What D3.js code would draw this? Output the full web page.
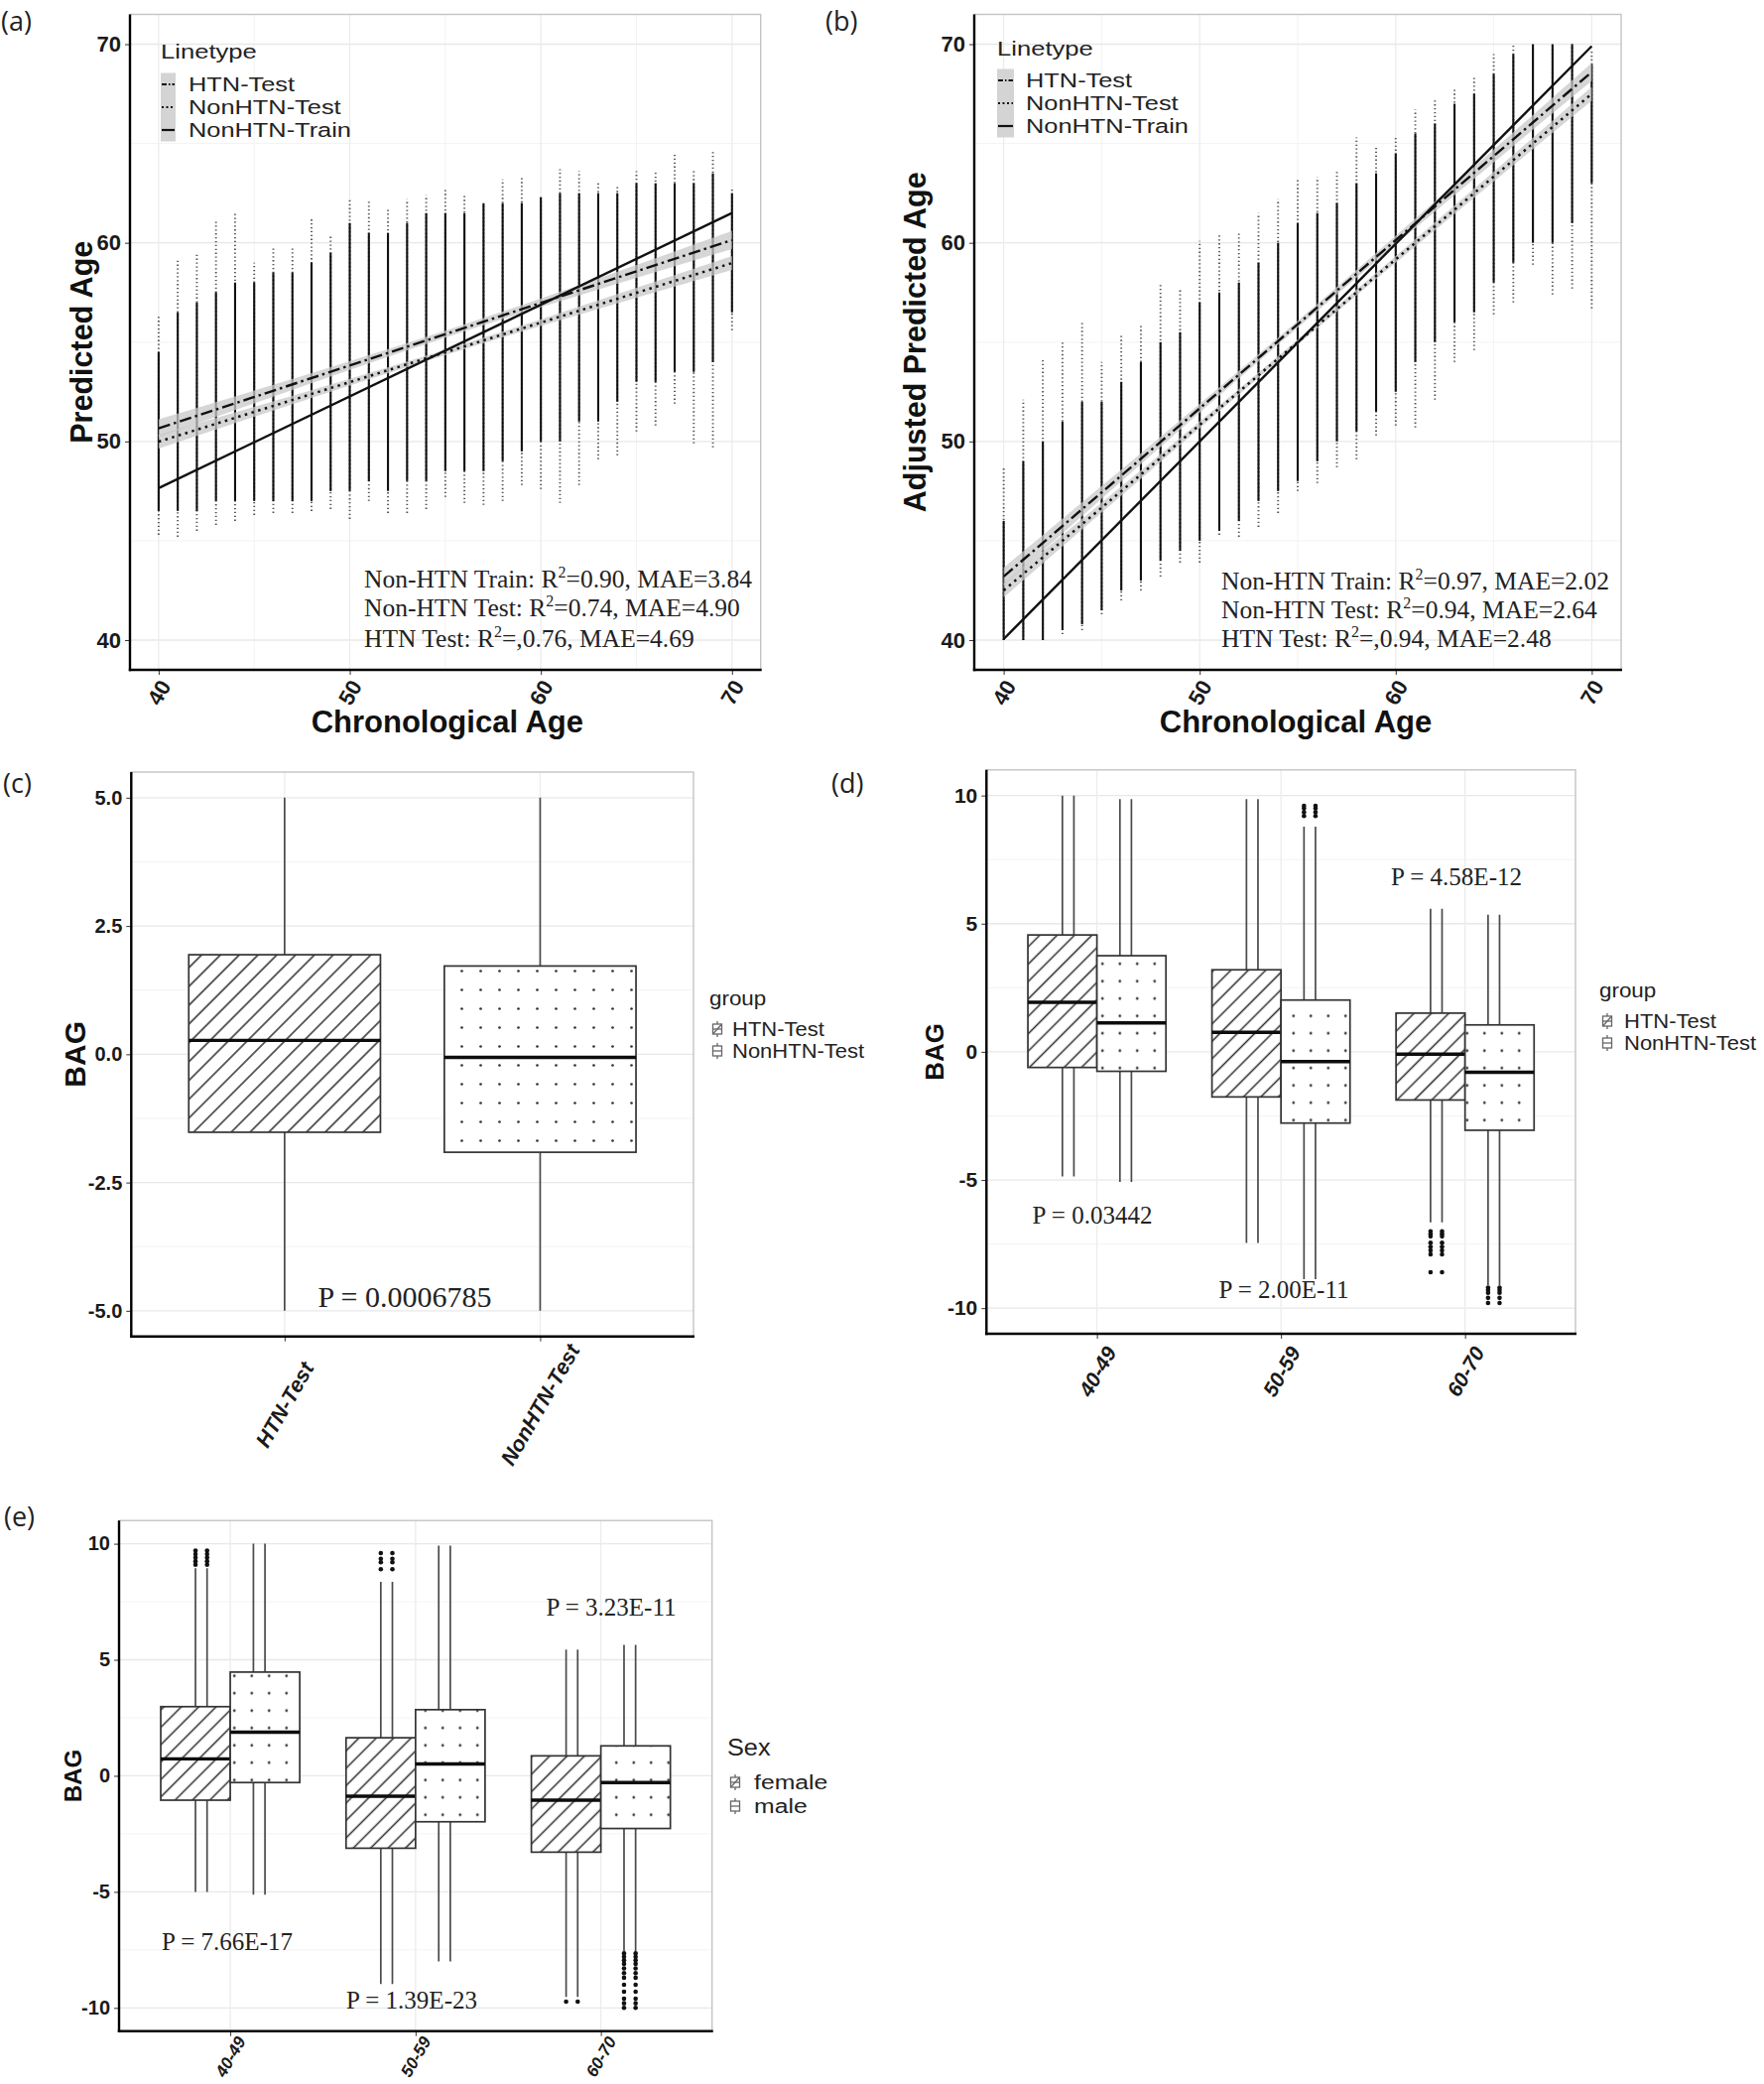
<!DOCTYPE html>
<html><head><meta charset="utf-8">
<script src="https://cdn.jsdelivr.net/npm/d3@7"></script>
<style>body{margin:0;background:#fff}</style>
</head><body>
<svg id="fig" width="1778" height="2100"></svg>
<script>
// ---------------- DATA ----------------
// Panels (a),(b): chronological age columns
const ages = [40,41,42,43,44,45,46,47,48,49,50,51,52,53,54,55,56,57,58,59,60,61,62,63,64,65,66,67,68,69,70];
const aMax    = [56.3,59.1,59.5,61.1,61.5,59.0,59.8,59.8,61.3,60.4,62.2,62.2,61.8,62.2,62.4,62.8,62.4,62.0,63.2,63.3,62.3,63.7,63.6,63.1,62.9,63.6,63.6,64.5,63.7,64.6,62.7];
const aMin    = [45.3,45.2,45.5,45.8,46.0,46.3,46.4,46.4,46.5,46.6,46.1,47.0,46.4,46.4,46.6,47.2,46.9,46.8,47.0,47.8,47.6,46.9,47.8,49.1,49.3,50.5,50.8,51.9,49.9,49.7,55.6];
const aCoreHi = [54.5,56.5,57,57.5,58,58,58.5,58.5,59,59.5,61,60.5,60.5,61,61.5,61.5,61.5,62,62,62,62.3,62.5,62.5,62.5,62.5,63,63,63,63,63.5,62.5];
const aCoreLo = [46.5,46.5,46.5,47,47,47,47,47,47,47.5,47.5,48,47.5,48,48,48.5,48.5,48.5,49,49.5,50,50,51,51,52,53,53,53.5,53.5,54,56.5];
const bMax    = [48.7,52.1,54.2,55.0,56.0,54.0,55.4,55.9,57.9,57.7,60.1,60.5,60.5,61.5,62.2,63.2,63.3,63.6,65.3,64.9,65.4,66.7,67.2,67.8,68.3,69.5,70,69.8,70,70,69.7];
const bMin    = [40,40,40,40.3,40.5,41.3,42.0,42.5,43.2,43.9,43.9,45.3,45.2,45.7,46.4,47.5,47.9,48.7,49.1,50.3,50.8,50.7,52.1,54.0,54.6,56.4,57.0,58.9,57.4,57.7,56.7];
const bCoreHi = [46,49,50,51,52,52,53,54,55,55.5,57,57.5,58,59,60,61,61.5,62,63,63.5,64.5,65.5,66,67,67.5,68.5,69.5,70,70,70,69];
const bCoreLo = [40,40,40,40.5,40.8,41.5,42.5,43,44,44.5,45,45.5,46,47,47.5,48,49,50,50.5,51.5,52.5,54,55,56,56.5,58,59,60,60,61,63];

// regression fits (value at x = 40 and x = 70)
const fitX = [40, 70];
const aTrainFit = [47.65, 61.5];
const aHtnFit   = [50.66, 60.14];
const aNonFit   = [49.99, 58.98];
const bTrainFit = [40.05, 69.9];
const bHtnFit   = [43.2, 68.6];
const bNonFit   = [42.5, 67.5];
// confidence band half-widths
const bandX    = [40, 45, 50, 55, 60, 65, 70];
const aHtnSe   = [0.45,0.32,0.22,0.17,0.22,0.32,0.45];
const aNonSe   = [0.35,0.25,0.17,0.13,0.17,0.25,0.35];
const bHtnSe   = [0.45,0.32,0.22,0.17,0.22,0.32,0.45];
const bNonSe   = [0.35,0.25,0.17,0.13,0.17,0.25,0.35];

const lineTypes = ["HTN-Test","NonHTN-Test","NonHTN-Train"];
const statNames = ["Non-HTN Train","Non-HTN Test","HTN Test"];
const aR2  = ["=0.90","=0.74","=,0.76"];
const aMAE = ["3.84","4.90","4.69"];
const bR2  = ["=0.97","=0.94","=,0.94"];
const bMAE = ["2.02","2.64","2.48"];

// Panel (c)
const cCats = ["HTN-Test","NonHTN-Test"];
const cLo  = [-5.0,-5.0];
const cQ1  = [-1.52,-1.91];
const cMed = [0.27,-0.06];
const cQ3  = [1.94,1.72];
const cHi  = [5.0,5.0];
const cP = "P = 0.0006785";

// Panel (d)
const ageGroups = ["40-49","50-59","60-70"];
const dHtnLo  = [-4.86,-7.46,-6.65];
const dHtnQ1  = [-0.61,-1.76,-1.88];
const dHtnMed = [1.93,0.76,-0.09];
const dHtnQ3  = [4.56,3.2,1.51];
const dHtnHi  = [10.0,9.86,5.58];
const dHtnOut = [[],[],[-7.0,-7.1,-7.2,-7.45,-7.6,-7.75,-7.9,-8.6]];
const dNonLo  = [-5.08,-8.87,-9.1];
const dNonQ1  = [-0.76,-2.78,-3.06];
const dNonMed = [1.13,-0.38,-0.8];
const dNonQ3  = [3.75,2.02,1.05];
const dNonHi  = [9.86,8.79,5.35];
const dNonOut = [[],[9.2,9.35,9.5,9.6],[-9.2,-9.3,-9.4,-9.6,-9.8]];
const dP = ["P = 0.03442","P = 2.00E-11","P = 4.58E-12"];

// Panel (e)
const sexes = ["female","male"];
const eFLo  = [-5.0,-8.97,-9.53];
const eFQ1  = [-1.05,-3.12,-3.29];
const eFMed = [0.73,-0.88,-1.05];
const eFQ3  = [2.98,1.64,0.86];
const eFHi  = [8.95,8.36,5.44];
const eFOut = [[9.1,9.25,9.4,9.55,9.7],[8.9,9.2,9.35,9.6],[-9.73]];
const eMLo  = [-5.12,-8.0,-7.55];
const eMQ1  = [-0.29,-1.98,-2.27];
const eMMed = [1.88,0.51,-0.29];
const eMQ3  = [4.47,2.85,1.29];
const eMHi  = [10.0,9.92,5.64];
const eMOut = [[],[],[-7.65,-7.8,-7.95,-8.1,-8.3,-8.5,-8.7,-9.0,-9.3,-9.6,-9.8,-10.0]];
const eP = ["P = 7.66E-17","P = 1.39E-23","P = 3.23E-11"];

// ---------------- DRAWING ----------------
const SANS = '"Liberation Sans", Arial, Helvetica, sans-serif';
const SERIF = '"Liberation Serif", "Times New Roman", serif';
const TITLE = '"Open Sans", "Noto Sans", "Liberation Sans", sans-serif';
const svg = d3.select('#fig');
svg.append('rect').attr('width',1778).attr('height',2100).attr('fill','#fff');
const defs = svg.append('defs');
function hatch(id, s){
  defs.append('pattern').attr('id',id).attr('patternUnits','userSpaceOnUse')
    .attr('width',s).attr('height',s).attr('patternTransform','rotate(45)')
    .append('line').attr('x1',s/2).attr('x2',s/2).attr('y1',-1).attr('y2',s+1)
    .attr('stroke','#2a2a2a').attr('stroke-width',1.5);
}
function dots(id, s){
  defs.append('pattern').attr('id',id).attr('patternUnits','userSpaceOnUse')
    .attr('width',s).attr('height',s)
    .append('circle').attr('cx',s/2).attr('cy',s/2).attr('r',1.35).attr('fill','#333');
}
hatch('hatchC',13.4); dots('dotsC',19);
hatch('hatchD',12.4); dots('dotsD',17.5);

const hy = v => String(v);   // plain hyphen-minus labels

// horizontally stretched legend text (the original figure's legend glyphs are wide)
function wideText(g, x, y, txt, fs, sx){
  return g.append('text').attr('transform',`translate(${x},${y}) scale(${sx},1)`)
    .attr('dominant-baseline','central').attr('font-family',SANS).attr('font-size',fs)
    .attr('fill','#222').text(txt);
}

function frame(x, y, o){
  const xr = x.range(); const L = xr[0], R = xr[xr.length-1];
  const [B,T] = y.range();
  const g = svg.append('g');
  const hl = (vals,col,w) => g.append('g').selectAll('line').data(vals).join('line')
    .attr('x1',L).attr('x2',R).attr('y1',d=>y(d)).attr('y2',d=>y(d)).attr('stroke',col).attr('stroke-width',w);
  const vl = (vals,col,w) => g.append('g').selectAll('line').data(vals).join('line')
    .attr('y1',T).attr('y2',B).attr('x1',d=>x(d)).attr('x2',d=>x(d)).attr('stroke',col).attr('stroke-width',w);
  hl(o.yMinor||[],'#f3f3f3',1); vl(o.xMinor||[],'#f3f3f3',1);
  hl(o.yTicks,'#e8e8e8',1.3); vl(o.xTicks,'#ececec',1.3);
  g.append('rect').attr('x',L).attr('y',T).attr('width',R-L).attr('height',B-T)
    .attr('fill','none').attr('stroke','#c4c4c4').attr('stroke-width',1.4);
  const ya = g.append('g').attr('transform',`translate(${L},0)`)
    .call(d3.axisLeft(y).tickValues(o.yTicks).tickFormat(o.yFmt).tickSize(5).tickPadding(4));
  ya.select('.domain').remove();
  ya.selectAll('line').attr('stroke','#333');
  ya.selectAll('text').attr('font-family',SANS).attr('font-weight','bold')
    .attr('font-size',o.yFs).attr('fill','#1a1a1a');
  const xa = g.append('g').attr('transform',`translate(0,${B})`)
    .call(d3.axisBottom(x).tickValues(o.xTicks).tickFormat(o.xFmt).tickSize(5));
  xa.select('.domain').remove();
  xa.selectAll('line').attr('stroke','#333');
  xa.selectAll('text').attr('x',0).attr('y',0).attr('dy',null)
    .attr('text-anchor','middle').attr('dominant-baseline','central')
    .attr('transform',`translate(0,${o.xOff}) rotate(-60)`)
    .attr('font-family',SANS).attr('font-weight','bold').attr('font-style',o.xItalic?'italic':'normal')
    .attr('font-size',o.xFs).attr('fill','#1a1a1a');
  g.append('line').attr('x1',L).attr('x2',L).attr('y1',T).attr('y2',B+1.2)
    .attr('stroke','#000').attr('stroke-width',2.4);
  g.append('line').attr('x1',L-1.2).attr('x2',R+1).attr('y1',B).attr('y2',B)
    .attr('stroke','#000').attr('stroke-width',2.4);
  if (o.yTitle) svg.append('text').attr('transform',`translate(${o.yTitleX},${(T+B)/2}) rotate(-90)`)
    .attr('text-anchor','middle').attr('dominant-baseline','central')
    .attr('font-family',SANS).attr('font-weight','bold').attr('font-size',o.yTitleFs).attr('fill','#111').text(o.yTitle);
  if (o.xTitle) svg.append('text').attr('x',(L+R)/2 + (o.xTitleDx||0)).attr('y',o.xTitleY)
    .attr('text-anchor','middle').attr('dominant-baseline','central')
    .attr('font-family',SANS).attr('font-weight','bold').attr('font-size',o.xTitleFs).attr('fill','#111').text(o.xTitle);
  return g;
}
function panelTag(t,x,y){
  svg.append('text').attr('x',x).attr('y',y).attr('dominant-baseline','central')
    .attr('font-family',TITLE).attr('font-size',27).attr('fill','#222').text(t);
}

// ----- scatter panels -----
function scatterPanel(x, y, mins, maxs, coreLo, coreHi, fits, ses, R2, MAE, o){
  frame(x, y, {yTicks:[40,50,60,70], yMinor:[45,55,65], xTicks:[40,50,60,70], xMinor:[45,55,65],
    yFmt:hy, xFmt:hy, yFs:22, xFs:22, xOff:23,
    yTitle:o.yTitle, yTitleX:o.yTitleX, yTitleFs:30.5, xTitle:'Chronological Age', xTitleY:727, xTitleFs:31, xTitleDx:o.xTitleDx});
  const cols = ages.map((a,i)=>({a, lo:mins[i], hi:maxs[i], cl:coreLo[i], ch:coreHi[i]}));
  const g = svg.append('g');
  g.selectAll('.tail').data(cols).join('line').attr('class','tail')
    .attr('x1',d=>x(d.a)).attr('x2',d=>x(d.a)).attr('y1',d=>y(d.lo)).attr('y2',d=>y(d.hi))
    .attr('stroke','#555').attr('stroke-width',1.9).attr('stroke-dasharray','1.3,2.6');
  g.selectAll('.core').data(cols).join('line').attr('class','core')
    .attr('x1',d=>x(d.a)).attr('x2',d=>x(d.a)).attr('y1',d=>y(d.cl)).attr('y2',d=>y(d.ch))
    .attr('stroke','#111').attr('stroke-width',2.1);
  // ribbons
  const fitAt = (f, xv) => f[0] + (f[1]-f[0])*(xv-fitX[0])/(fitX[1]-fitX[0]);
  [[fits[0],ses[0]],[fits[1],ses[1]]].forEach(([f,se])=>{
    const pts = bandX.map((bx,i)=>({x:bx, lo:fitAt(f,bx)-se[i], hi:fitAt(f,bx)+se[i]}));
    g.append('path').datum(pts).attr('d', d3.area().x(d=>x(d.x)).y0(d=>y(d.lo)).y1(d=>y(d.hi)).curve(d3.curveNatural))
      .attr('fill','#c8c8c8').attr('fill-opacity',0.75);
  });
  const styles = [{da:'12,4,2.5,4', w:2.4},{da:'2.5,4.5', w:2.5},{da:null, w:2.4}];
  [fits[0],fits[1],fits[2]].forEach((f,k)=>{
    g.append('path').datum(fitX.map((fx,i)=>({x:fx, y:f[i]})))
      .attr('d', d3.line().x(d=>x(d.x)).y(d=>y(d.y)))
      .attr('fill','none').attr('stroke','#111').attr('stroke-width',styles[k].w)
      .attr('stroke-dasharray',styles[k].da);
  });
  // legend
  const lg = svg.append('g');
  wideText(lg, o.legX, o.legTitleY, 'Linetype', 21, 1.22);
  lg.append('rect').attr('x',o.legX).attr('y',o.legItemY[0]-11.5).attr('width',o.keyW)
    .attr('height',o.legItemY[2]-o.legItemY[0]+23).attr('fill','#d4d4d4');
  lineTypes.forEach((t,k)=>{
    lg.append('line').attr('x1',o.legX+1).attr('x2',o.legX+o.keyW-1).attr('y1',o.legItemY[k]).attr('y2',o.legItemY[k])
      .attr('stroke','#111').attr('stroke-width',2.2).attr('stroke-dasharray',k===0?'5,2,1.5,2':(k===1?'2,2.5':null));
    wideText(lg, o.legTextX, o.legItemY[k], t, 20.3, 1.25);
  });
  // stats
  statNames.forEach((s,k)=>{
    const t = svg.append('text').attr('x',o.statX).attr('y',o.statY[k])
      .attr('font-family',SERIF).attr('font-size',25.5).attr('fill','#222');
    t.append('tspan').text(s+': R');
    t.append('tspan').attr('dy',-10).attr('font-size',16).text('2');
    t.append('tspan').attr('dy',10).text(R2[k]+', MAE='+MAE[k]);
  });
}

const xA = d3.scaleLinear().domain([38.5,71.5]).range([131,766.7]);
const yA = d3.scaleLinear().domain([38.5,71.5]).range([675,14.5]);
scatterPanel(xA, yA, aMin, aMax, aCoreLo, aCoreHi, [aHtnFit,aNonFit,aTrainFit], [aHtnSe,aNonSe],
  aR2, aMAE, {yTitle:'Predicted Age', yTitleX:82, xTitleDx:2, legX:162, legTitleY:52, legItemY:[85,108,131], keyW:15, legTextX:190,
  statX:367, statY:[592,621,652]});
const xB = d3.scaleLinear().domain([38.5,71.5]).range([982,1634]);
const yB = d3.scaleLinear().domain([38.5,71.5]).range([675,14.5]);
scatterPanel(xB, yB, bMin, bMax, bCoreLo, bCoreHi, [bHtnFit,bNonFit,bTrainFit], [bHtnSe,bNonSe],
  bR2, bMAE, {yTitle:'Adjusted Predicted Age', yTitleX:922, xTitleDx:-2, legX:1005, legTitleY:49, legItemY:[81,104,127], keyW:17, legTextX:1034,
  statX:1231, statY:[594,623,652]});
panelTag('(a)',1,20); panelTag('(b)',832,20);

// ----- box panels -----
function boxLegend(x0, titleY, title, titleFs, titleSx, items, itemY, textX, fs, sx){
  const g = svg.append('g');
  wideText(g, x0, titleY, title, titleFs, titleSx);
  items.forEach((t,k)=>{
    const cx = x0+8, cy = itemY[k];
    const c = '#666';
    g.append('line').attr('x1',cx).attr('x2',cx).attr('y1',cy-8).attr('y2',cy+8).attr('stroke',c).attr('stroke-width',1.3);
    g.append('rect').attr('x',cx-4.5).attr('y',cy-5).attr('width',9).attr('height',10).attr('fill','#fff').attr('stroke',c).attr('stroke-width',1.3);
    g.append('line').attr('x1',cx-4.5).attr('x2',cx+4.5).attr('y1',cy).attr('y2',cy).attr('stroke',c).attr('stroke-width',1.3);
    if (k===0) g.append('line').attr('x1',cx-4.5).attr('x2',cx+4.5).attr('y1',cy+5).attr('y2',cy-5).attr('stroke',c).attr('stroke-width',1.3);
    wideText(g, textX, cy, t, fs, sx);
  });
}
function drawBox(g, x0, w, lines, y, d, fill){
  lines.forEach(lx=>{
    g.append('line').attr('x1',lx).attr('x2',lx).attr('y1',y(d.lo)).attr('y2',y(d.hi))
      .attr('stroke','#4a4a4a').attr('stroke-width',1.7);
    g.selectAll(null).data(d.out||[]).join('circle').attr('cx',lx).attr('cy',v=>y(v)).attr('r',2.3).attr('fill','#111');
  });
  g.append('rect').attr('x',x0).attr('y',y(d.q3)).attr('width',w).attr('height',y(d.q1)-y(d.q3)).attr('fill','#fff');
  g.append('rect').attr('x',x0).attr('y',y(d.q3)).attr('width',w).attr('height',y(d.q1)-y(d.q3))
    .attr('fill',`url(#${fill})`).attr('stroke','#333').attr('stroke-width',1.7);
  g.append('line').attr('x1',x0).attr('x2',x0+w).attr('y1',y(d.med)).attr('y2',y(d.med))
    .attr('stroke','#0d0d0d').attr('stroke-width',3.4);
}

// (c)
const xC = d3.scalePoint().domain(cCats).range([132.3,699]).padding(0.6);
const yC = d3.scaleLinear().domain([-5.5,5.5]).range([1346.7,778]);
frame(xC, yC, {yTicks:[-5,-2.5,0,2.5,5], yMinor:[-3.75,-1.25,1.25,3.75], xTicks:cCats,
  yFmt:d=>d.toFixed(1), xFmt:d=>d, yFs:20, xFs:21.5, xOff:69, xItalic:true,
  yTitle:'BAG', yTitleX:75, yTitleFs:30});
{
  const g = svg.append('g'); const st = xC.step();
  cCats.forEach((c,i)=>{
    const d = {lo:cLo[i], q1:cQ1[i], med:cMed[i], q3:cQ3[i], hi:cHi[i]};
    drawBox(g, xC(c)-0.375*st, 0.75*st, [xC(c)], yC, d, i===0?'hatchC':'dotsC');
  });
  svg.append('text').attr('x',408).attr('y',1306).attr('text-anchor','middle').attr('dominant-baseline','central')
    .attr('font-family',SERIF).attr('font-size',30).attr('fill','#222').text(cP);
}
boxLegend(715, 1006, 'group', 20, 1.12, cCats, [1037,1059], 738, 19.3, 1.14);
panelTag('(c)',3,788); panelTag('(d)',838,788);

function dodgedPanel(x, y, first, second, pats){
  const g = svg.append('g'); const st = x.step();
  ageGroups.forEach((grp,i)=>{
    const gc = x(grp);
    const s1 = {lo:first.lo[i], q1:first.q1[i], med:first.med[i], q3:first.q3[i], hi:first.hi[i], out:first.out[i]};
    const s2 = {lo:second.lo[i], q1:second.q1[i], med:second.med[i], q3:second.q3[i], hi:second.hi[i], out:second.out[i]};
    drawBox(g, gc-0.375*st, 0.375*st, [gc-0.1875*st, gc-0.125*st], y, s1, pats[0]);
    drawBox(g, gc, 0.375*st, [gc+0.1875*st, gc+0.125*st], y, s2, pats[1]);
  });
}
// (d)
const xD = d3.scalePoint().domain(ageGroups).range([994.3,1588]).padding(0.6);
const yD = d3.scaleLinear().domain([-11,11]).range([1344,775.8]);
frame(xD, yD, {yTicks:[-10,-5,0,5,10], yMinor:[-7.5,-2.5,2.5,7.5], xTicks:ageGroups,
  yFmt:hy, xFmt:d=>d, yFs:21, xFs:21, xOff:38, xItalic:true,
  yTitle:'BAG', yTitleX:942, yTitleFs:26});
dodgedPanel(xD, yD,
  {lo:dHtnLo,q1:dHtnQ1,med:dHtnMed,q3:dHtnQ3,hi:dHtnHi,out:dHtnOut},
  {lo:dNonLo,q1:dNonQ1,med:dNonMed,q3:dNonQ3,hi:dNonHi,out:dNonOut}, ['hatchD','dotsD']);
[[1101,1224],[1294,1299.5],[1468,883]].forEach((p,k)=>{
  svg.append('text').attr('x',p[0]).attr('y',p[1]).attr('text-anchor','middle').attr('dominant-baseline','central')
    .attr('font-family',SERIF).attr('font-size',25).attr('fill','#222').text(dP[k]);
});
boxLegend(1612, 998, 'group', 20, 1.12, cCats, [1029,1051], 1637, 19.3, 1.14);

// (e)
const xE = d3.scalePoint().domain(ageGroups).range([120,717.7]).padding(0.6);
const yE = d3.scaleLinear().domain([-11,11]).range([2046.7,1532.2]);
frame(xE, yE, {yTicks:[-10,-5,0,5,10], yMinor:[-7.5,-2.5,2.5,7.5], xTicks:ageGroups,
  yFmt:hy, xFmt:d=>d, yFs:20, xFs:17, xOff:26, xItalic:true,
  yTitle:'BAG', yTitleX:73, yTitleFs:24});
dodgedPanel(xE, yE,
  {lo:eFLo,q1:eFQ1,med:eFMed,q3:eFQ3,hi:eFHi,out:eFOut},
  {lo:eMLo,q1:eMQ1,med:eMMed,q3:eMQ3,hi:eMHi,out:eMOut}, ['hatchD','dotsD']);
[[229,1956.5],[415,2015.8],[616,1619.2]].forEach((p,k)=>{
  svg.append('text').attr('x',p[0]).attr('y',p[1]).attr('text-anchor','middle').attr('dominant-baseline','central')
    .attr('font-family',SERIF).attr('font-size',25).attr('fill','#222').text(eP[k]);
});
boxLegend(733, 1761, 'Sex', 23, 1.1, sexes, [1796,1820], 760, 21, 1.18);
panelTag('(e)',4,1527);
</script>
</body></html>
